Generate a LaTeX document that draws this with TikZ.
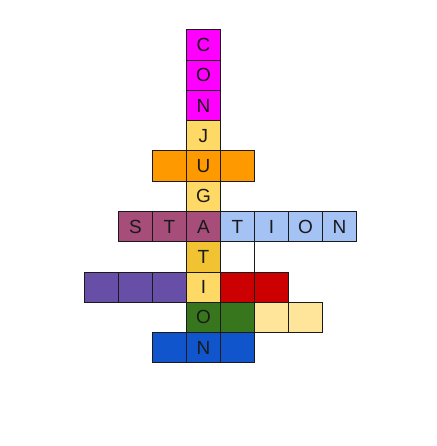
\documentclass[tikz,border=0pt]{standalone}
\usepackage{fontspec}
\setmainfont{Liberation Sans}
\usetikzlibrary{positioning}
\definecolor{Magenta}{HTML}{FF00FF}
\definecolor{Sand}{HTML}{FFD966}
\definecolor{Gold}{HTML}{F1C232}
\definecolor{Orange}{HTML}{FF9900}
\definecolor{Plum}{HTML}{A64D79}
\definecolor{Sky}{HTML}{A4C2F4}
\definecolor{Violet}{HTML}{674EA7}
\definecolor{Crimson}{HTML}{CC0000}
\definecolor{Forest}{HTML}{38761D}
\definecolor{Cream}{HTML}{FFE599}
\definecolor{Royal}{HTML}{1155CC}
\definecolor{Blank}{HTML}{FFFFFF}
\definecolor{Ink}{HTML}{1A1A1A}

\begin{document}
\begin{tikzpicture}[x=1pt, y=-1pt,
    cell/.style={draw=Ink, line width=0.9pt, minimum width=34pt, minimum height=30.25pt, inner sep=0pt, anchor=north west, font=\fontsize{19}{19}\selectfont, text=Ink}
]

\fill[white] (0,0) rectangle (436,446);
\useasboundingbox (0,0) rectangle (436,446);

% row / column / fill / letter
\foreach \r/\c/\clr/\txt in {
    0/3/Magenta/C, 1/3/Magenta/O, 2/3/Magenta/N,
    3/3/Sand/J,
    4/2/Orange/{}, 4/3/Orange/U, 4/4/Orange/{},
    5/3/Sand/G,
    6/1/Plum/S, 6/2/Plum/T, 6/3/Plum/A,
    6/4/Sky/T, 6/5/Sky/I, 6/6/Sky/O, 6/7/Sky/N,
    7/3/Gold/T, 7/4/Blank/{},
    8/0/Violet/{}, 8/1/Violet/{}, 8/2/Violet/{}, 8/3/Sand/I,
    8/4/Crimson/{}, 8/5/Crimson/{},
    9/3/Forest/O, 9/4/Forest/{}, 9/5/Cream/{}, 9/6/Cream/{},
    10/2/Royal/{}, 10/3/Royal/N, 10/4/Royal/{}}
{
    \node[cell, fill=\clr] (cell-\r-\c) at (84+34*\c, 29.5+30.25*\r) {\txt};
}

\end{tikzpicture}
\end{document}
